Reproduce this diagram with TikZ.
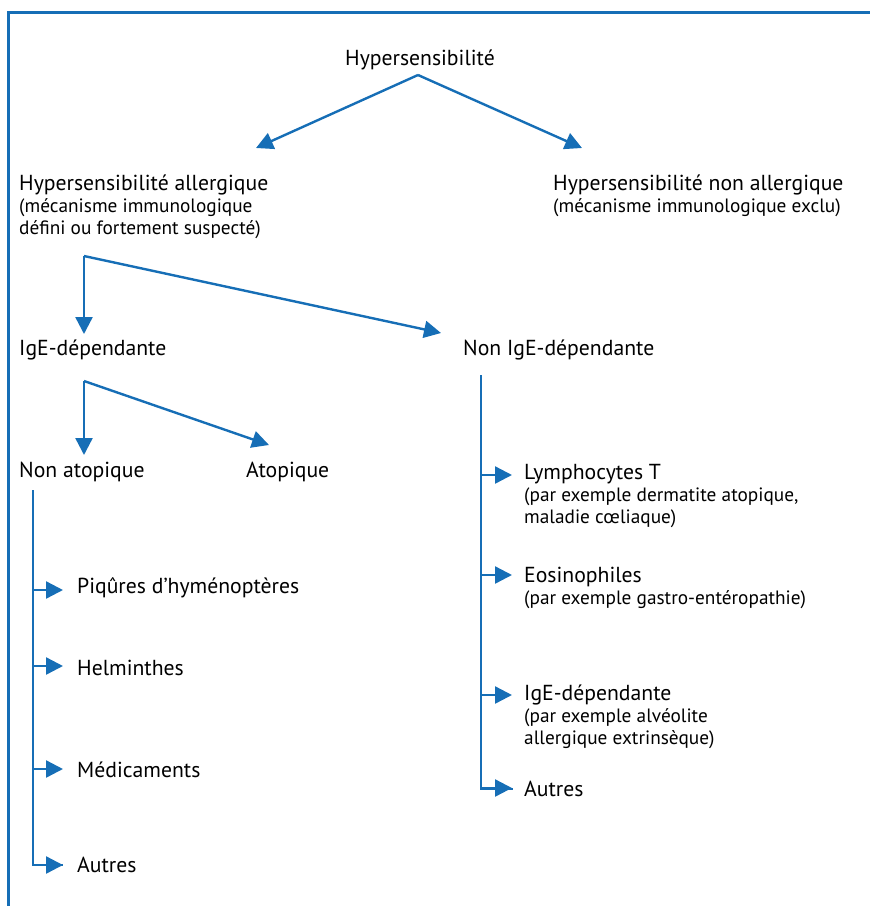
\documentclass[tikz,border=0pt]{standalone}
\usepackage{fontspec}
\setmainfont{PT Sans}
\usetikzlibrary{arrows.meta}
\definecolor{lineblue}{RGB}{22,110,182}
\newcommand{\titl}{\fontsize{21.7}{22}\selectfont}
\newcommand{\subl}{\fontsize{19.3}{22}\selectfont}
\tikzset{
  conn/.style={draw=lineblue, line width=2.4pt},
  arr/.style={conn, -{Triangle[length=17pt,width=17pt]}},
  title/.style={inner sep=0pt, anchor=west, align=left, font=\titl},
  multi/.style={inner sep=0pt, anchor=north west, align=left, font=\subl},
}
\begin{document}
\begin{tikzpicture}[x=1pt,y=-1pt]
\useasboundingbox (0,0) rectangle (870,906);
% frame
\draw[draw=lineblue, line width=3pt] (8,906) -- (8,12) -- (870,12);
% nodes
\node[title, anchor=center] (hyp) at (420,60) {Hypersensibilité};
\node[multi] (all) at (19,175) {{\titl Hypersensibilité allergique}\\(mécanisme immunologique\\défini ou fortement suspecté)};
\node[multi] (nall) at (553,175) {{\titl Hypersensibilité non allergique}\\(mécanisme immunologique exclu)};
\node[title] (ige) at (19,350) {IgE-dépendante};
\node[title] (nige) at (463,350) {Non IgE-dépendante};
\node[title] (nat) at (19,472) {Non atopique};
\node[title] (at) at (246,472) {Atopique};
% left column items
\node[title] (piq) at (77,588) {Piqûres d’hyménoptères};
\node[title] (hel) at (77,668) {Helminthes};
\node[title] (med) at (77,770) {Médicaments};
\node[title] (aut1) at (77,865) {Autres};
% right column items
\node[multi] (lym) at (524,464) {{\titl Lymphocytes T}\\(par exemple dermatite atopique,\\maladie cœliaque)};
\node[multi] (eos) at (524,567) {{\titl Eosinophiles}\\(par exemple gastro-entéropathie)};
\node[multi] (ige2) at (524,685) {{\titl IgE-dépendante}\\(par exemple alvéolite\\allergique extrinsèque)};
\node[title] (aut2) at (524,789) {Autres};
% coordinates
\coordinate (a1) at (418,75);
\coordinate (t1) at (256,148);
\coordinate (t2) at (582,148);
\coordinate (a2) at (84,256);
\coordinate (t3) at (84,334);
\coordinate (t4) at (441,333);
\coordinate (a3) at (84,381);
\coordinate (t5) at (84,455);
\coordinate (t6) at (269,445);
\coordinate (lv) at (33,490);
\coordinate (rv) at (481,375);
% connectors
\draw[arr] (a1) -- (t1);
\draw[arr] (a1) -- (t2);
\draw[arr] (a2) -- (t3);
\draw[arr] (a2) -- (t4);
\draw[arr] (a3) -- (t5);
\draw[arr] (a3) -- (t6);
% left column
\draw[conn] (lv) |- ([xshift=-14pt]aut1.west);
\foreach \n/\y in {piq/590,hel/666,med/769,aut1/865}{
  \draw[arr] (33,\y) -- ([xshift=-14pt]\n.west |- 0,\y);
}
% right column
\draw[conn] (rv) |- ([xshift=-11pt]aut2.west);
\foreach \n/\y in {lym/475,eos/575,ige2/695,aut2/788}{
  \draw[arr] (481,\y) -- (512,\y);
}
\end{tikzpicture}
\end{document}
